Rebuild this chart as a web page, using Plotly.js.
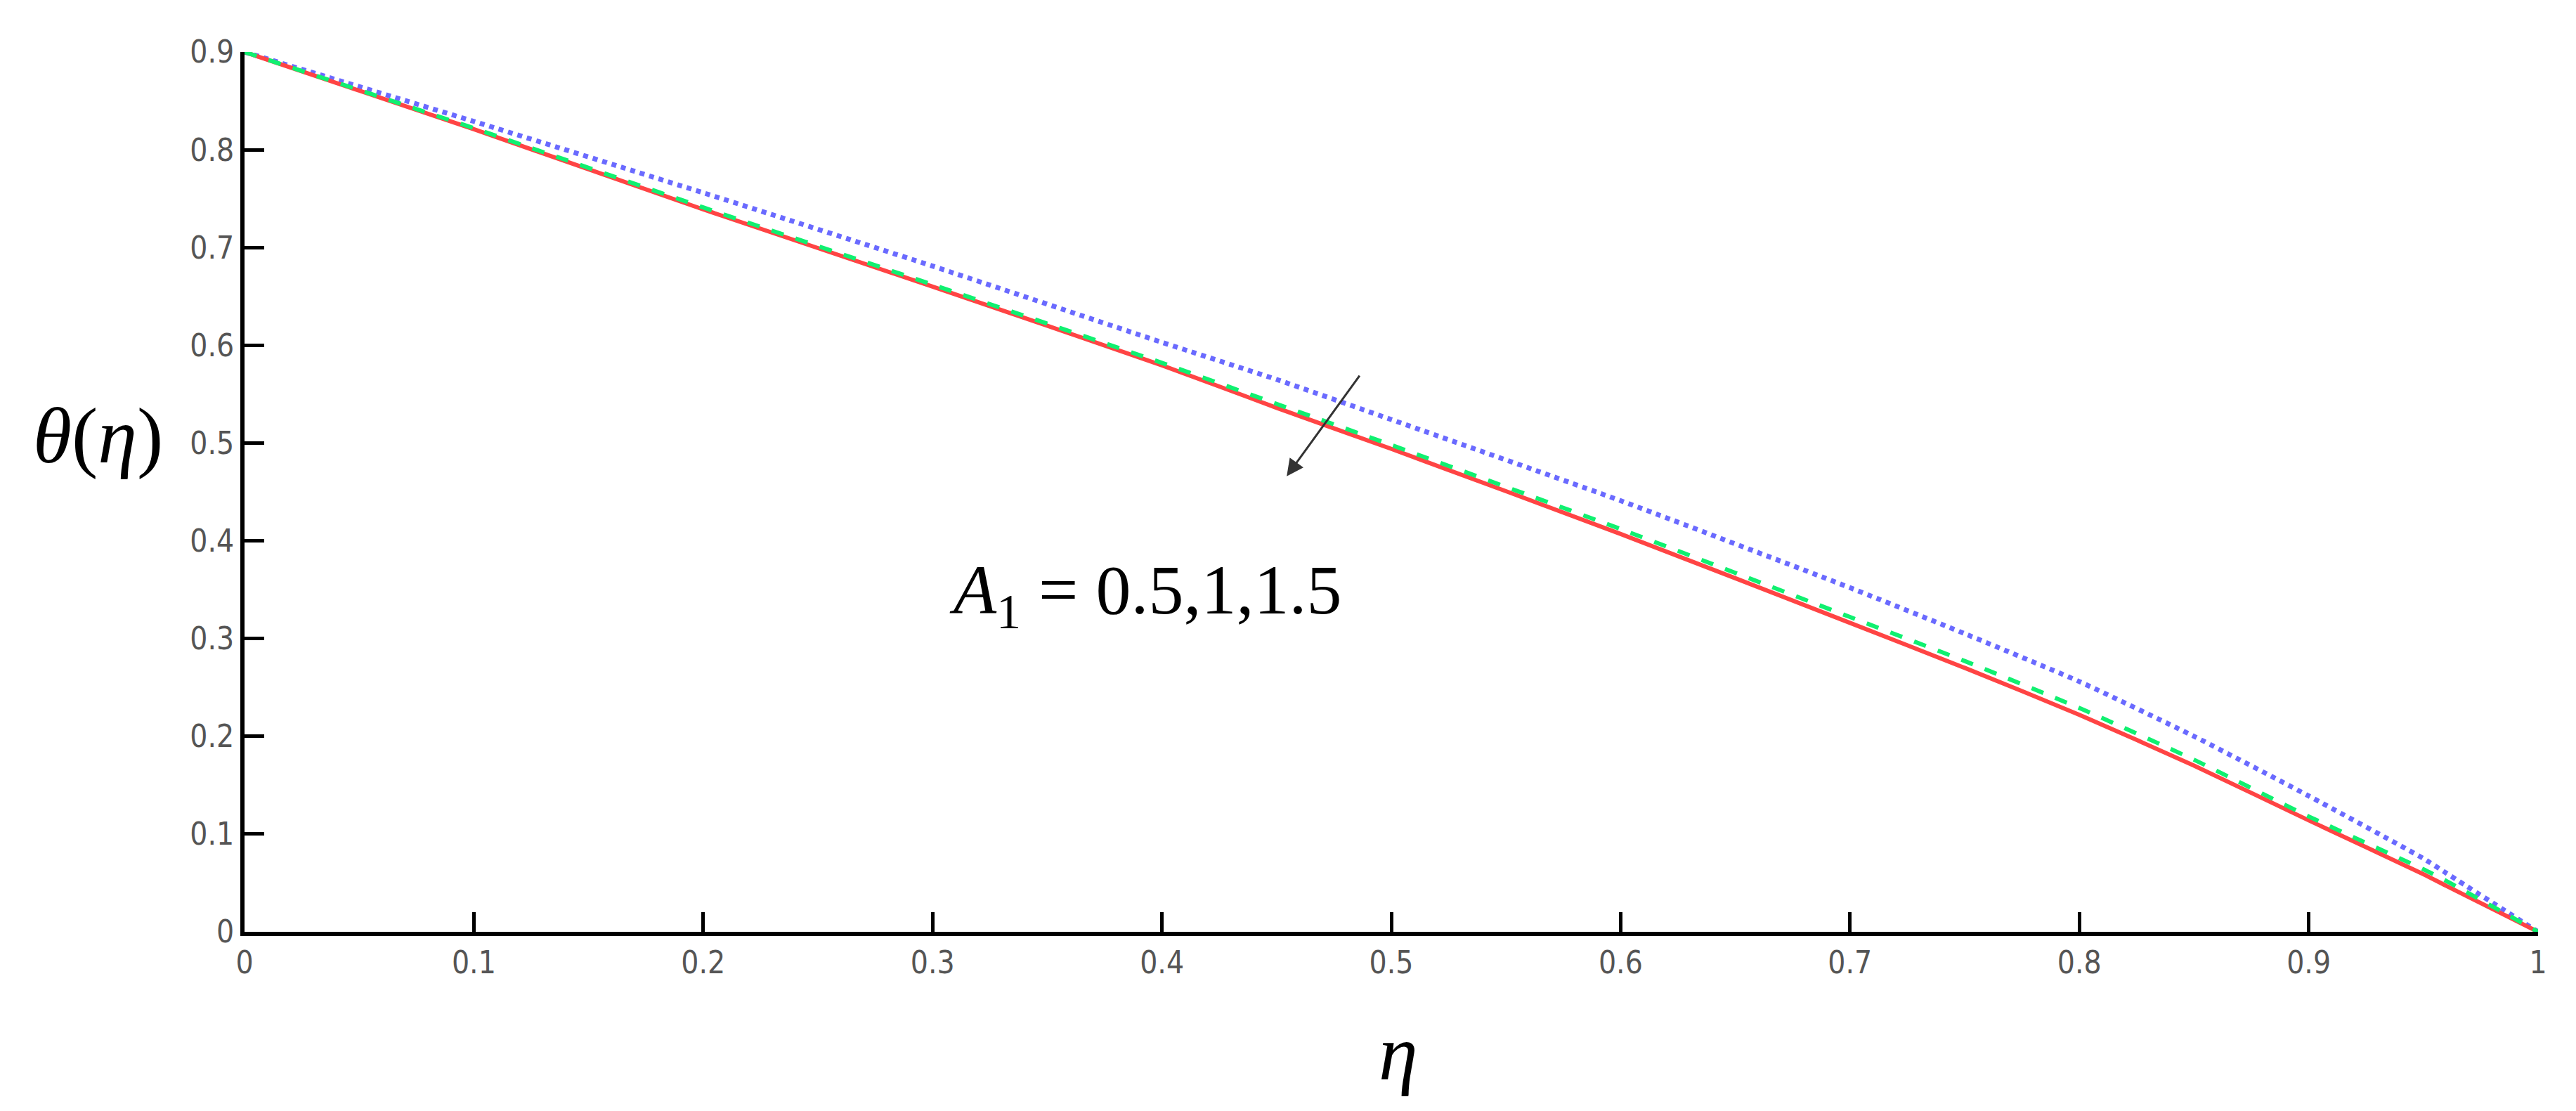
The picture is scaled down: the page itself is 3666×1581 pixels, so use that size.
<!DOCTYPE html>
<html>
<head>
<meta charset="utf-8">
<script src="https://cdn.plot.ly/plotly-3.0.1.min.js"></script>
<style>
  html, body { margin: 0; padding: 0; background: #ffffff; }
  #chart { width: 3666px; height: 1581px; }
</style>
</head>
<body>
<div id="chart"></div>
<script>
  // eta grid and temperature profiles
  const eta = [0, 0.1, 0.2, 0.3, 0.4, 0.45, 0.5, 0.6, 0.7, 0.75, 0.8, 0.85, 0.9, 0.95, 0.96, 1];
  const thetaA05 = [0.9, 0.829, 0.756, 0.681, 0.603, 0.565, 0.524, 0.441, 0.352, 0.305, 0.256, 0.200, 0.139, 0.075, 0.060, 0];
  const thetaA10 = [0.9, 0.822, 0.741, 0.662, 0.582, 0.540, 0.498, 0.412, 0.322, 0.277, 0.229, 0.176, 0.118, 0.064, 0.052, 0];
  const thetaA15 = [0.9, 0.821, 0.739, 0.660, 0.5795, 0.536, 0.494, 0.407, 0.316, 0.270, 0.222, 0.170, 0.114, 0.059, 0.047, 0];

  const xTicks = [0, 0.1, 0.2, 0.3, 0.4, 0.5, 0.6, 0.7, 0.8, 0.9, 1];
  const yTicks = [0, 0.1, 0.2, 0.3, 0.4, 0.5, 0.6, 0.7, 0.8, 0.9];

  const tickFont = {
    family: "'Liberation Sans Narrow', 'DejaVu Sans Condensed', 'Liberation Sans', Arial, sans-serif",
    size: 44,
    color: "#555555"
  };
  const serif = "'Liberation Serif', 'Times New Roman', serif";

  const traces = [
    {
      x: eta, y: thetaA05, type: "scatter", mode: "lines", name: "A1 = 0.5",
      line: { color: "#6a6aff", width: 7, dash: "dot", shape: "spline", smoothing: 0.5 }
    },
    {
      x: eta, y: thetaA15, type: "scatter", mode: "lines", name: "A1 = 1.5",
      line: { color: "#ff4444", width: 6, shape: "spline", smoothing: 0.5 }
    },
    {
      x: eta, y: thetaA10, type: "scatter", mode: "lines", name: "A1 = 1",
      line: { color: "#10f070", width: 6, dash: "dash", shape: "spline", smoothing: 0.5 }
    }
  ];

  const axisCommon = {
    showgrid: false,
    zeroline: false,
    showline: true,
    linecolor: "#000000",
    linewidth: 6,
    ticks: "inside",
    ticklen: 28,
    tickwidth: 5,
    tickcolor: "#000000",
    tickfont: tickFont,
    fixedrange: true
  };

  const layout = {
    width: 3666,
    height: 1581,
    paper_bgcolor: "#ffffff",
    plot_bgcolor: "#ffffff",
    showlegend: false,
    margin: { l: 348, r: 54, t: 74, b: 255 },
    xaxis: {
      ...axisCommon,
      range: [0, 1],
      tickvals: xTicks,
      ticktext: xTicks.map(String)
    },
    yaxis: {
      ...axisCommon,
      range: [0, 0.9],
      tickvals: yTicks,
      ticktext: yTicks.map(String)
    },
    annotations: [
      {
        xref: "paper", yref: "paper", x: -0.064, y: 0.564,
        xanchor: "center", yanchor: "middle", showarrow: false,
        text: "<i>θ</i>(<i>η</i>)",
        font: { family: serif, size: 112, color: "#000000" }
      },
      {
        xref: "paper", yref: "paper", x: 0.503, y: -0.137,
        xanchor: "center", yanchor: "middle", showarrow: false,
        text: "<i>η</i>",
        font: { family: serif, size: 112, color: "#000000" }
      },
      {
        xref: "x", yref: "y", x: 0.393, y: 0.345,
        xanchor: "center", yanchor: "middle", showarrow: false,
        text: "<i>A</i><sub>1</sub> = 0.5,1,1.5",
        font: { family: serif, size: 100, color: "#000000" }
      },
      {
        xref: "x", yref: "y", x: 0.4544, y: 0.466,
        axref: "x", ayref: "y", ax: 0.4865, ay: 0.570,
        text: "", showarrow: true,
        arrowhead: 2, arrowsize: 1.6, arrowwidth: 3, arrowcolor: "#333333"
      }
    ]
  };

  Plotly.newPlot("chart", traces, layout, { displayModeBar: false, staticPlot: true });
</script>
</body>
</html>
